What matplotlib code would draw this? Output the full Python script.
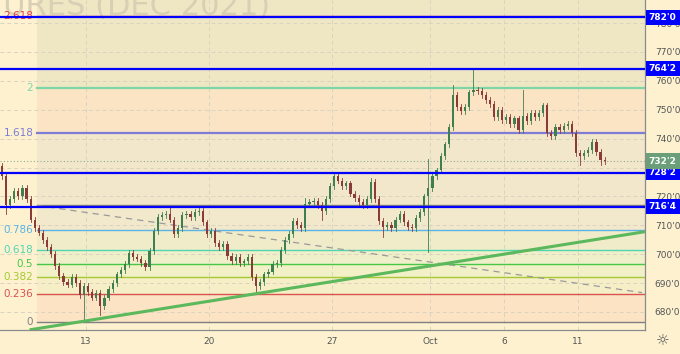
import matplotlib.pyplot as plt
from matplotlib.transforms import blended_transform_factory

plt.rcParams.update({
    "font.family": "DejaVu Sans",
    "font.size": 7,
})

BG = "#fdf1d0"

# hourly-ish bars, 6 per trading day, Sep 13 = day 0
bar_start = -3.42
bars_per_day = 6
first_open = 730.5
closes = [
    727, 717, 719, 722, 720, 723, 719, 712, 709, 707.5,
    705, 702.5, 700, 696, 692.5, 690.5, 689.5, 692, 690, 686,
    689, 687, 685, 686.5, 682, 685, 688, 690, 693, 694.5,
    696.5, 700.5, 699, 698.5, 697, 695.5, 701, 708, 713, 713.5,
    714, 712, 707, 709, 713.5, 714, 713, 714.5, 715, 711,
    707, 708, 704, 702.5, 703.5, 699.5, 697.5, 699, 697, 697.5,
    699, 692, 689, 690.5, 693, 694, 696.5, 697, 701.5, 705,
    707, 711.5, 710, 709, 717.5, 718, 718.5, 717, 715, 719,
    723.5, 727, 725.5, 723.5, 724.5, 721, 719.5, 718, 717, 719,
    725, 719, 711.5, 709.5, 710, 709, 712, 714, 711, 709.5,
    709, 712.5, 714.5, 720, 723, 727, 729, 734, 738, 744,
    755, 751, 749.5, 751, 756, 757, 756.5, 755, 753.5, 752,
    747.5, 750, 746.5, 747.5, 745, 747, 743, 748, 746, 749,
    747.5, 749, 751.5, 742, 741, 744, 743, 744.5, 745, 742,
    735, 734, 735, 736, 739, 735.5, 732.5, 732.25,
]
# long wicks (bar index -> price)
spike_hi = {0: 731.5, 31: 701.5, 41: 716.3, 48: 716, 74: 719.5, 81: 728.5,
            90: 726.3, 104: 733, 110: 758.6, 115: 764, 127: 757, 132: 752.5, 144: 740}
spike_lo = {1: 714, 20: 676.5, 24: 679, 62: 686.6, 78: 711.8, 93: 706,
            104: 700.8, 126: 742, 141: 731, 146: 731}

# fibonacci extension
fib_low, fib_high = 676.5, 717.0
fib_start = -2.0
fib_ratios = [0, 0.236, 0.382, 0.5, 0.618, 0.786, 1, 1.618, 2, 2.618]
fib_labels = ["0", "0.236", "0.382", "0.5", "0.618", "0.786", "", "1.618", "2", "2.618"]
fib_colors = ["#808080", "#d9534f", "#a5c934", "#46c846", "#4fd6b0", "#5ab4e6",
              "#808080", "#7d7dd8", "#7ed6a6", "#e8404a"]
fib_fills = ["#fbe3c4", "#f6eec6", "#f2f0c6", "#eff0c9", "#f0ecca", "#f2e8cb",
             "#f2e6cb", "#fbe4c4", "#efe6c3", "#efe6c3"]

# horizontal levels
level_prices = [716.5, 728.25, 764.25, 782.0]
level_labels = ["716'4", "728'2", "764'2", "782'0"]
last_price = 732.25
last_label = "732'2"

# drawn trend lines (day, price)
trend_days = [-2.3, 22.8]
trend_prices = [673.8, 707.9]
dash_days = [-2.0, 22.6]
dash_prices = [716.9, 686.7]

tick_days = [0, 5, 10, 14, 17, 20]
tick_labels = ["13", "20", "27", "Oct", "6", "11"]
price_ticks = [680, 690, 700, 710, 720, 730, 740, 750, 760, 770, 780]

fig = plt.figure(figsize=(6.8, 3.54), dpi=100, facecolor=BG)
ax = fig.add_axes([0, 24 / 354, 645 / 680, 330 / 354])
ax.set_facecolor(BG)
ax.set_xlim(-3.5, 22.72)
ax.set_ylim(673.75, 788)

# watermark
ax.text(0.419, 0.955, "FUTURES (DEC 2021)", transform=ax.transAxes, ha="right",
        va="baseline", fontsize=22, color="#d8cfb4", zorder=0.5)

# grid
for d in tick_days:
    ax.axvline(d, color="#d9d3bf", lw=0.7, ls=(0, (4, 3)), zorder=0.8)
for p in price_ticks:
    ax.axhline(p, color="#d9d3bf", lw=0.7, ls=(0, (4, 3)), zorder=0.8)

# fib bands and lines
levels = [fib_low + r * (fib_high - fib_low) for r in fib_ratios]
edges = levels + [790]
for i in range(len(edges) - 1):
    ax.fill_between([fib_start, 23], edges[i], edges[i + 1], color=fib_fills[i], lw=0, zorder=0.3)
for lv, lab, c, r in zip(levels, fib_labels, fib_colors, fib_ratios):
    ax.plot([fib_start, 23], [lv, lv], color=c, lw=1.6 if r in (2, 1.618) else 1.0, zorder=1)
    if lab:
        ax.text(fib_start - 0.15, lv, lab, color=c, ha="right", va="center", fontsize=7.5, zorder=1)

# last price dotted line
ax.axhline(last_price, color="#8fae90", lw=0.8, ls=(0, (1, 2)), zorder=1)

# candles
o = first_open
for i, c in enumerate(closes):
    x = bar_start + i / bars_per_day
    hi = spike_hi.get(i, max(o, c) + 1.0)
    lo = spike_lo.get(i, min(o, c) - 1.0)
    col = "#3f7f4f" if c >= o else "#8b3a3a"
    ax.plot([x, x], [lo, hi], color=col, lw=0.6, zorder=3)
    ax.bar(x, max(abs(c - o), 0.3), bottom=min(o, c), width=0.09, color=col, lw=0, zorder=3)
    o = c

# trend lines
ax.plot(dash_days, dash_prices, color="#9a9a9a", lw=0.9, ls=(0, (5, 4)), zorder=2)
ax.plot(trend_days, trend_prices, color="#5cb85c", lw=2.2, zorder=4, solid_capstyle="butt")

# blue levels
trans = blended_transform_factory(ax.transAxes, ax.transData)
for p, lab in zip(level_prices, level_labels):
    ax.axhline(p, color="#0000ff", lw=1.6, zorder=5)
    ax.text(1.006, p, lab, transform=trans, ha="left", va="center", color="white",
            fontsize=6.5, fontweight="bold", zorder=6, clip_on=False,
            bbox=dict(boxstyle="square,pad=0.35", fc="#0000ff", ec="none"))
ax.text(1.006, last_price, last_label, transform=trans, ha="left", va="center", color="white",
        fontsize=6.5, fontweight="bold", zorder=6, clip_on=False,
        bbox=dict(boxstyle="square,pad=0.35", fc="#6a9f7a", ec="none"))

# axes
for s in ["top", "left"]:
    ax.spines[s].set_visible(False)
for s in ["right", "bottom"]:
    ax.spines[s].set_color("#8a8a8a")
    ax.spines[s].set_linewidth(0.9)
ax.yaxis.tick_right()
ax.set_yticks(price_ticks)
ax.set_yticklabels([f"{p}'0" for p in price_ticks])
ax.set_xticks(tick_days)
ax.set_xticklabels(tick_labels)
ax.tick_params(length=0, colors="#555555", labelsize=6.5)
ax.tick_params(axis="y", pad=7)
ax.tick_params(axis="x", pad=5)

fig.text(663 / 680, 1 - 341 / 354, "\u263c", ha="center", va="center", fontsize=11, color="#555555")

fig.savefig("out.png", dpi=100, facecolor=BG)
